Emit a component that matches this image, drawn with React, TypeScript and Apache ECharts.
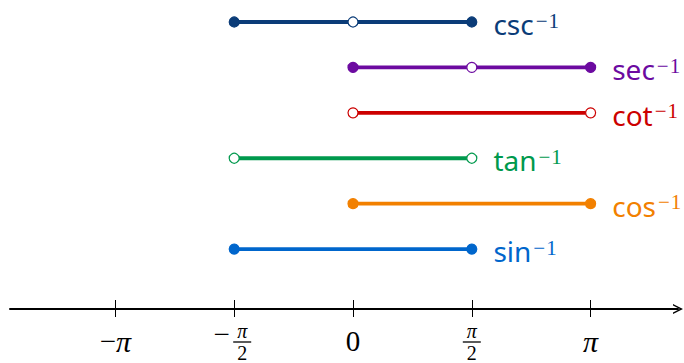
import React, { useEffect, useRef } from 'react';
import * as echarts from 'echarts';

// ---- data ----
const functionNames = ['sin', 'cos', 'tan', 'cot', 'sec', 'csc'];
const rowLevels = [1, 2, 3, 4, 5, 6];
// range endpoints, in multiples of π
const rangeStart = [-0.5, 0, -0.5, 0, 0, -0.5];
const rangeEnd = [0.5, 1, 0.5, 1, 1, 0.5];
const startIncluded = [true, true, false, false, true, true];
const endIncluded = [true, true, false, false, true, true];
const excludedInside: (number | null)[] = [null, null, null, null, 0.5, 0];
const seriesColors = ['#0066cc', '#f28000', '#00994d', '#cc0000', '#6c0aa0', '#0b3c78'];
const tickMultiples = [-1, -0.5, 0, 0.5, 1];
const tickLabels = ['−π', '−π/2', '0', 'π/2', 'π'];

const PI = Math.PI;
const X_MIN = -1.4436 * PI;
const X_MAX = 1.3678 * PI;

function labelFor(value: number): string {
  let idx = 0;
  let best = Infinity;
  tickMultiples.forEach((m, i) => {
    const d = Math.abs(m * PI - value);
    if (d < best) { best = d; idx = i; }
  });
  const t = tickLabels[idx];
  if (t === '−π/2') return '{sp|}{n|π}\n{sp|}{bar|}\n{sp|}{d|2}';
  if (t === 'π/2') return '{n|π}\n{bar|}\n{d|2}';
  if (t === '−π') return '{t|−}{p|π}';
  if (t === 'π') return '{p|π}';
  return '{t|' + t + '}';
}

export default function App() {
  const ref = useRef<HTMLDivElement>(null);
  useEffect(() => {
    if (!ref.current) return;
    const chart = echarts.init(ref.current, undefined, { renderer: 'svg' });
    const serif = 'Liberation Serif';
    const series = functionNames.map((name, i) => {
      const c = seriesColors[i];
      const pts: { x: number; inc: boolean; last: boolean }[] = [];
      pts.push({ x: rangeStart[i], inc: startIncluded[i], last: false });
      if (excludedInside[i] !== null) pts.push({ x: excludedInside[i] as number, inc: false, last: false });
      pts.push({ x: rangeEnd[i], inc: endIncluded[i], last: true });
      return {
        type: 'line',
        name,
        xAxisIndex: 0,
        yAxisIndex: 0,
        clip: false,
        silent: true,
        symbol: 'circle',
        symbolSize: 10,
        lineStyle: { color: c, width: 3.8 },
        data: pts.map((p) => ({
          value: [p.x * PI, rowLevels[i]],
          itemStyle: { color: p.inc ? c : '#ffffff', borderColor: c, borderWidth: 1.2 },
          label: p.last
            ? {
                show: true,
                position: 'right',
                distance: 16,
                offset: [0, 2],
                formatter: '{a|' + name + '}{b|−}{c|1}',
                rich: {
                  a: { fontFamily: 'Noto Sans', fontSize: 28, lineHeight: 28, color: c },
                  b: { fontFamily: serif, fontSize: 21, lineHeight: 17, verticalAlign: 'top', color: c, padding: [0, 0, 0, 2] },
                  c: { fontFamily: serif, fontSize: 21, lineHeight: 17, verticalAlign: 'top', color: c, padding: [0, 0, 0, 1] },
                },
              }
            : { show: false },
        })),
      };
    });

    const tickVals = tickMultiples.map((m) => m * PI);

    chart.setOption({
      animation: false,
      backgroundColor: '#ffffff',
      grid: { left: 10, right: 6, top: 22, bottom: 52, containLabel: false },
      xAxis: [
        {
          type: 'value',
          min: X_MIN,
          max: X_MAX,
          position: 'bottom',
          offset: 0,
          splitLine: { show: false },
          axisLine: {
            show: true,
            onZero: false,
            lineStyle: { color: '#000', width: 2 },
            symbol: ['none', 'path://M0,10 L5,0 L10,10 L8.6,10 L5,3.2 L1.4,10 Z'],
            symbolSize: [12, 10],
          },
          axisTick: { show: true, inside: false, length: 8, customValues: tickVals, lineStyle: { color: '#000', width: 1 } },
          axisLabel: {
            show: true,
            customValues: tickVals,
            margin: 12,
            color: '#000',
            formatter: (v: number) => labelFor(v),
            rich: {
              t: { fontFamily: serif, fontSize: 29, lineHeight: 40, color: '#000' },
              p: { fontFamily: serif, fontSize: 30, fontStyle: 'italic', lineHeight: 40, color: '#000' },
              n: { fontFamily: serif, fontSize: 20, fontStyle: 'italic', lineHeight: 20, color: '#000' },
              bar: { width: 18, height: 1.3, lineHeight: 2, backgroundColor: '#000' },
              d: { fontFamily: serif, fontSize: 20, lineHeight: 20, color: '#000' },
              sp: { width: 16, fontSize: 1, lineHeight: 1 },
            },
          },
        },
        {
          type: 'value',
          min: X_MIN,
          max: X_MAX,
          position: 'bottom',
          offset: 0,
          splitLine: { show: false },
          axisLine: { show: false, onZero: false },
          axisTick: { show: true, inside: true, length: 9, customValues: tickVals, lineStyle: { color: '#000', width: 1 } },
          axisLabel: {
            show: true,
            customValues: [-0.5 * PI],
            margin: 12,
            formatter: () => '{m|−}{sp|}',
            rich: {
              m: { fontFamily: serif, fontSize: 29, lineHeight: 25, color: '#000' },
              sp: { width: 25, fontSize: 1, lineHeight: 1 },
            },
          },
        },
      ],
      yAxis: {
        type: 'value',
        min: -0.32,
        max: 6,
        show: false,
        splitLine: { show: false },
      },
      series,
    });
    return () => chart.dispose();
  }, []);
  return (
    <div
      ref={ref}
      style={{ position: 'absolute', left: 0, top: 0, width: 684, height: 363 }}
    />
  );
}
